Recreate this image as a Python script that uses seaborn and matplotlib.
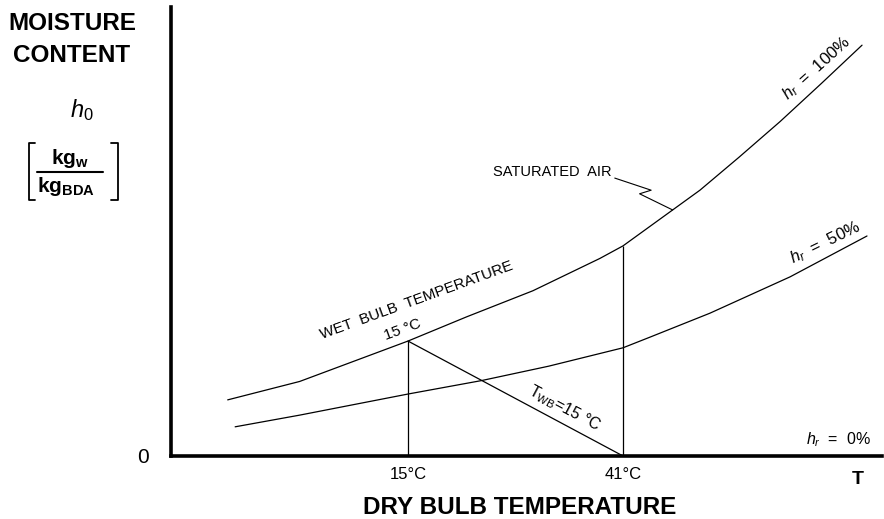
import numpy as np
import matplotlib
matplotlib.use("Agg")
import matplotlib.pyplot as plt
from matplotlib.lines import Line2D
import seaborn as sns

# values (moisture in arbitrary units, 0..1 = axis height)
temp_sat = [-6.8, 1.9, 15.0, 22.1, 30.1, 38.2, 41.0, 47.0, 50.3, 55.0, 60.0, 65.0, 69.9]
moist_sat = [0.125, 0.166, 0.256, 0.310, 0.368, 0.440, 0.468, 0.548, 0.592, 0.665, 0.745, 0.830, 0.915]
temp_half = [-5.9, 1.9, 15.0, 23.9, 32.0, 41.0, 44.3, 51.5, 61.2, 70.5]
moist_half = [0.065, 0.091, 0.138, 0.168, 0.200, 0.241, 0.265, 0.318, 0.399, 0.490]
wet_bulb_T = 15.0
dry_bulb_T = 41.0
tick_temps = [15, 41]
tick_labels = ["15°C", "41°C"]

sns.set_theme(style="white")
plt.rcParams["font.family"] = ["Liberation Sans", "DejaVu Sans"]
plt.rcParams["text.color"] = "black"
plt.rcParams["xtick.color"] = "black"
plt.rcParams["ytick.color"] = "black"
plt.rcParams["mathtext.fontset"] = "custom"
plt.rcParams["mathtext.rm"] = "Liberation Sans"
plt.rcParams["mathtext.it"] = "Liberation Sans:italic"
plt.rcParams["mathtext.bf"] = "Liberation Sans:bold"

fig = plt.figure(figsize=(8.84, 5.19), dpi=100)
ax = fig.add_axes([0.1934, 0.1214, 0.8043, 0.8651])

# relative humidity curves
sns.lineplot(x=temp_sat, y=moist_sat, color="black", linewidth=0.9,
             sort=False, estimator=None, ax=ax)
sns.lineplot(x=temp_half, y=moist_half, color="black", linewidth=0.9,
             sort=False, estimator=None, ax=ax)

# wet bulb construction
wb_moist = np.interp(wet_bulb_T, temp_sat, moist_sat)
db_moist = np.interp(dry_bulb_T, temp_sat, moist_sat)
ax.vlines([wet_bulb_T, dry_bulb_T], 0, [wb_moist, db_moist], color="black", lw=0.9)
ax.plot([wet_bulb_T, dry_bulb_T], [wb_moist, 0], color="black", lw=0.9)

# leader from "SATURATED AIR" to the curve (zigzag)
ax.plot([40.0, 44.4, 43.0, temp_sat[7]], [0.619, 0.592, 0.584, moist_sat[7]],
        color="black", lw=0.8)

ax.set_xlim(-13.66, 72.31)
ax.set_ylim(0, 1)
ax.set_xticks(tick_temps)
ax.set_xticklabels(tick_labels, fontsize=12)
ax.set_yticks([0])
ax.set_yticklabels(["0"], fontsize=15)
ax.tick_params(axis="x", length=0, pad=8)
ax.tick_params(axis="y", length=0, pad=16)
sns.despine(ax=ax)
for s in ["left", "bottom"]:
    ax.spines[s].set_linewidth(2.6)
    ax.spines[s].set_color("black")

kw = dict(ha="center", va="center", rotation_mode="anchor")
ax.text(64.45, 0.864, r"$h_r$  =  100%", rotation=42, fontsize=12, **kw)
ax.text(65.4, 0.474, r"$h_r$  =  50%", rotation=26, fontsize=12, **kw)
ax.text(67.0, 0.036, r"$h_r$  =  0%", fontsize=11.5, **kw)
ax.text(32.5, 0.633, "SATURATED  AIR", fontsize=10.5, **kw)
ax.text(16.0, 0.347, "WET  BULB  TEMPERATURE", rotation=20, fontsize=11, **kw)
ax.text(14.3, 0.281, "15 °C", rotation=20, fontsize=11, **kw)
ax.text(33.9, 0.107, r"$\mathregular{T_{WB}}$=15 °C", rotation=-28, fontsize=11.5, **kw)
ax.text(69.4, -0.053, "T", ha="center", va="center", fontsize=14,
        fontweight="bold", clip_on=False)

# axis titles
W, H = 884, 519
def fpos(x, y):
    return x / W, 1 - y / H

fig.text(*fpos(520, 507), "DRY BULB TEMPERATURE", ha="center", va="center",
         fontsize=17.5, fontweight="bold")
fig.text(*fpos(72, 24), "MOISTURE", ha="center", va="center", fontsize=17.5, fontweight="bold")
fig.text(*fpos(72, 55), "CONTENT", ha="center", va="center", fontsize=17.5, fontweight="bold")
fig.text(*fpos(82, 110), r"$h_0$", ha="center", va="center", fontsize=17)
fig.text(*fpos(70, 159), r"kg$_{\mathbf{w}}$", ha="center", va="center", fontsize=15, fontweight="bold")
fig.text(*fpos(66, 187), r"kg$_{\mathbf{BDA}}$", ha="center", va="center", fontsize=15, fontweight="bold")

# fraction bar and square brackets
def fline(xs, ys, lw):
    pts = [fpos(x, y) for x, y in zip(xs, ys)]
    fig.add_artist(Line2D([p[0] for p in pts], [p[1] for p in pts],
                          transform=fig.transFigure, color="black", lw=lw))

fline([37, 103], [172, 172], 1.5)
fline([35, 29, 29, 35], [143, 143, 200, 200], 1.3)
fline([111, 118, 118, 111], [143, 143, 200, 200], 1.3)

fig.savefig("out.png", dpi=100)
